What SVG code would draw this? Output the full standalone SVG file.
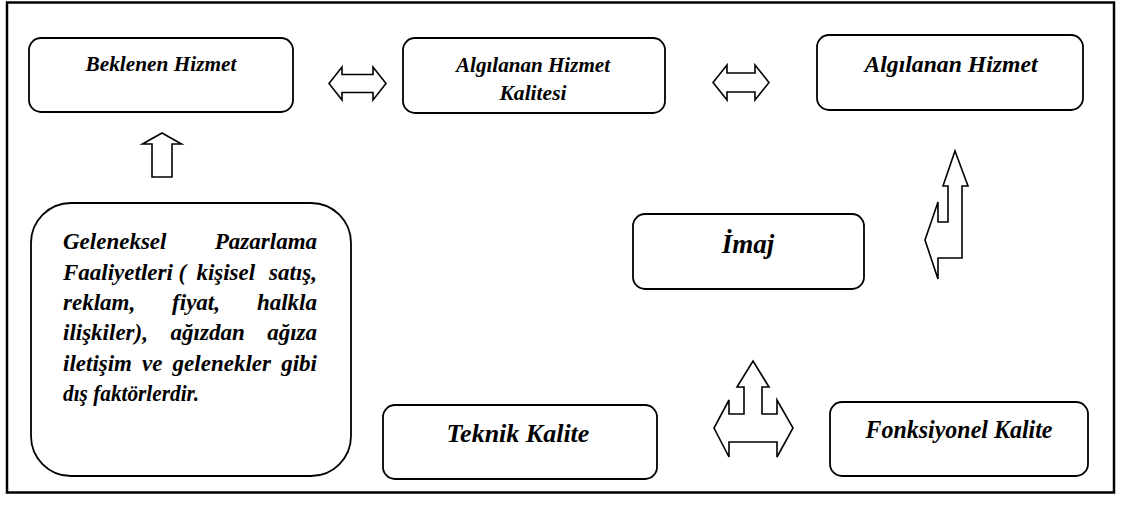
<svg xmlns="http://www.w3.org/2000/svg" width="1123" height="508" viewBox="0 0 1123 508">
<style>
.box{fill:#fff;stroke:#000;stroke-width:1.8}
.arr{fill:#fff;stroke:#000;stroke-width:1.6;stroke-linejoin:miter}
.t{font-family:"Liberation Serif","Times New Roman",serif;font-weight:bold;font-style:italic;fill:#000}
</style>
<rect x="0" y="0" width="1123" height="508" fill="#fff"/>
<rect id="frame" x="7" y="2.5" width="1107" height="490" fill="none" stroke="#000" stroke-width="2.5"/>
<g id="beklenen">
<rect class="box" x="29" y="38" width="264" height="74" rx="12"/>
<text class="t" x="161" y="71" font-size="22" text-anchor="middle" textLength="151" lengthAdjust="spacingAndGlyphs">Beklenen Hizmet</text>
</g>
<g id="algilanan-kalite">
<rect class="box" x="403" y="38" width="262" height="75" rx="12"/>
<text class="t" x="533" y="72" font-size="22" text-anchor="middle" textLength="154" lengthAdjust="spacingAndGlyphs">Algılanan Hizmet</text>
<text class="t" x="533" y="100" font-size="22" text-anchor="middle" textLength="67" lengthAdjust="spacingAndGlyphs">Kalitesi</text>
</g>
<g id="algilanan-hizmet">
<rect class="box" x="817" y="35" width="266" height="75" rx="12"/>
<text class="t" x="951" y="72" font-size="24" text-anchor="middle" textLength="173" lengthAdjust="spacingAndGlyphs">Algılanan Hizmet</text>
</g>
<g id="imaj">
<rect class="box" x="633" y="214" width="231" height="75" rx="12"/>
<text class="t" x="748" y="253" font-size="27" text-anchor="middle">İmaj</text>
</g>
<g id="geleneksel">
<rect class="box" x="31" y="203" width="320" height="273" rx="40"/>
<text class="t" font-size="23" y="249"><tspan x="63">Geleneksel</tspan><tspan x="214.8">Pazarlama</tspan></text>
<text class="t" font-size="23" y="279.5"><tspan x="63">Faaliyetleri</tspan><tspan x="178.5">(</tspan><tspan x="196.4">kişisel</tspan><tspan x="269.1">satış,</tspan></text>
<text class="t" font-size="23" y="310"><tspan x="63">reklam,</tspan><tspan x="172.1">fiyat,</tspan><tspan x="256.9">halkla</tspan></text>
<text class="t" font-size="23" y="340"><tspan x="63">ilişkiler),</tspan><tspan x="170.6">ağızdan</tspan><tspan x="267.2">ağıza</tspan></text>
<text class="t" font-size="23" y="370.5"><tspan x="63">iletişim</tspan><tspan x="142.1">ve</tspan><tspan x="172.6">gelenekler</tspan><tspan x="281.2">gibi</tspan></text>
<text class="t" font-size="23" y="401" x="63" textLength="136" lengthAdjust="spacingAndGlyphs">dış faktörlerdir.</text>
</g>
<g id="teknik">
<rect class="box" x="383" y="405" width="274" height="74" rx="12"/>
<text class="t" x="518" y="442" font-size="26" text-anchor="middle">Teknik Kalite</text>
</g>
<g id="fonksiyonel">
<rect class="box" x="830" y="402" width="258" height="74" rx="12"/>
<text class="t" x="959" y="438" font-size="24.5" text-anchor="middle" textLength="187" lengthAdjust="spacingAndGlyphs">Fonksiyonel Kalite</text>
</g>
<g id="connectors">
<polygon class="arr" points="162,133 181.5,144 172,144 172,177 152,177 152,144 142.5,144"/>
<polygon class="arr" points="329,83.5 342,67 342,74.5 373,74.5 373,67 386,83.5 373,100 373,92.5 342,92.5 342,100"/>
<polygon class="arr" points="713,82.5 727,65 727,73 755,73 755,65 769,82.5 755,100 755,92 727,92 727,100"/>
<polygon class="arr" points="955,151 968,186 962,186 962,258 938,258 938,279 925,240 938,202 938,222 948,222 948,186 943,186"/>
<polygon class="arr" points="753,361 769,387 762,387 762,414 777,414 777,400 793,428 777,457 777,442 729,442 729,457 714,428 729,400 729,414 744,414 744,387 737,387"/>
</g>
</svg>
